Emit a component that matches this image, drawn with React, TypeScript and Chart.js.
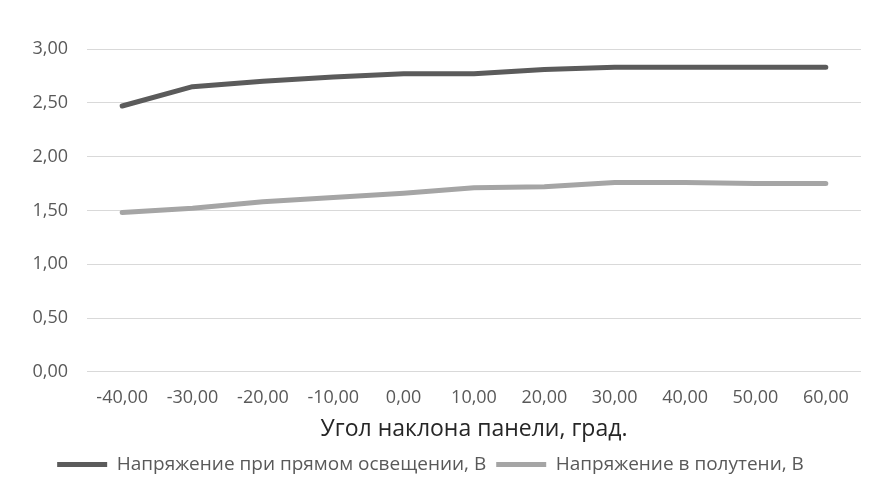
import React, { useEffect, useRef } from "react";
import { Chart, registerables } from "chart.js";

Chart.register(...registerables);

const angles = ["-40,00", "-30,00", "-20,00", "-10,00", "0,00", "10,00", "20,00", "30,00", "40,00", "50,00", "60,00"];
const directLight = [2.47, 2.65, 2.70, 2.74, 2.77, 2.77, 2.81, 2.83, 2.83, 2.83, 2.83];
const halfShadow = [1.48, 1.52, 1.58, 1.62, 1.66, 1.71, 1.72, 1.76, 1.76, 1.75, 1.75];
const seriesNames = ["Напряжение при прямом освещении, В", "Напряжение в полутени, В"];
const xTitle = "Угол наклона панели, град.";

const FONT = "'Open Sans', 'Liberation Sans', sans-serif";

export default function App() {
  const ref = useRef<HTMLCanvasElement | null>(null);
  useEffect(() => {
    if (!ref.current) return;
    const chart = new Chart(ref.current, {
      type: "line",
      data: {
        labels: angles,
        datasets: [
          {
            label: seriesNames[0],
            data: directLight,
            borderColor: "#5b5b5b",
            backgroundColor: "#5b5b5b",
            borderWidth: 5,
            pointRadius: 0,
            tension: 0,
            borderCapStyle: "round",
            borderJoinStyle: "round",
          },
          {
            label: seriesNames[1],
            data: halfShadow,
            borderColor: "#a5a5a5",
            backgroundColor: "#a5a5a5",
            borderWidth: 5,
            pointRadius: 0,
            tension: 0,
            borderCapStyle: "round",
            borderJoinStyle: "round",
          },
        ],
      },
      options: {
        animation: false,
        responsive: false,
        maintainAspectRatio: false,
        layout: { padding: { top: 49, right: 20, left: 0, bottom: 20 } },
        plugins: {
          tooltip: { enabled: false },
          legend: {
            position: "bottom",
            labels: {
              usePointStyle: true,
              pointStyle: "line",
              pointStyleWidth: 50,
              color: "#595959",
              font: { family: FONT, size: 19 },
              padding: 10,
            },
          },
        },
        scales: {
          x: {
            offset: true,
            grid: { display: false },
            border: { display: false },
            ticks: { color: "#595959", font: { family: FONT, size: 18 }, padding: 7, maxRotation: 0 },
            title: {
              display: true,
              text: xTitle,
              color: "#262626",
              font: { family: FONT, size: 23 },
              padding: { top: 0, bottom: 2 },
            },
          },
          y: {
            min: 0,
            max: 3,
            afterFit: (s: any) => {
              s.width = 87;
            },
            grid: { color: "#d9d9d9", lineWidth: 1, drawTicks: false },
            border: { display: false },
            ticks: {
              stepSize: 0.5,
              color: "#595959",
              font: { family: FONT, size: 18 },
              padding: 19,
              callback: (v: any) => Number(v).toFixed(2).replace(".", ","),
            },
          },
        },
      },
    });
    return () => chart.destroy();
  }, []);
  return (
    <div style={{ position: "fixed", left: 0, top: 0, width: 881, height: 504, background: "#fff" }}>
      <canvas ref={ref} width={881} height={504} style={{ width: 881, height: 504 }} />
    </div>
  );
}
